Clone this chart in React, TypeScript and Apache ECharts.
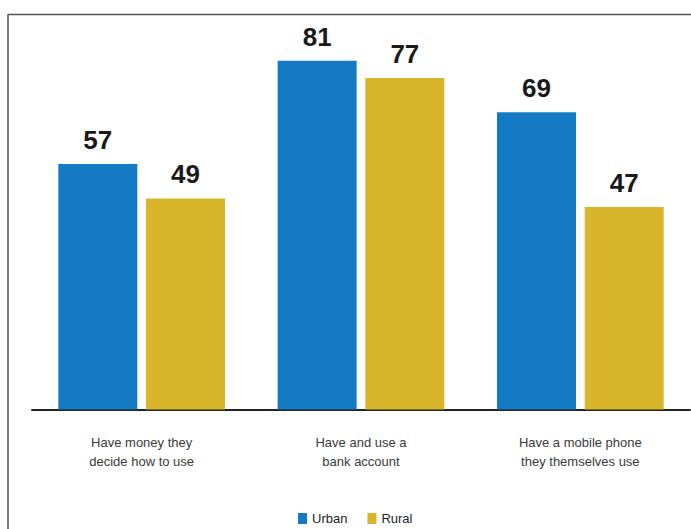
import React, { useEffect, useRef } from "react";
import * as echarts from "echarts";

const categories = [
  "Have money they\ndecide how to use",
  "Have and use a\nbank account",
  "Have a mobile phone\nthey themselves use",
];
const urbanValues = [57, 81, 69];
const ruralValues = [49, 77, 47];
const seriesNames = ["Urban", "Rural"];

const BLUE = "#157ac4";
const YELLOW = "#d8b52b";
const FONT = "'Liberation Sans', Arial, sans-serif";

export default function App() {
  const ref = useRef<HTMLDivElement>(null);
  useEffect(() => {
    if (!ref.current) return;
    const chart = echarts.init(ref.current, undefined, { renderer: "svg" });
    const valueLabel = {
      show: true,
      position: "top" as const,
      distance: 11,
      fontFamily: FONT,
      fontWeight: "bold" as const,
      fontSize: 26,
      color: "#1a1a1a",
    };
    chart.setOption({
      animation: false,
      backgroundColor: "#ffffff",
      grid: { left: 32, right: 1, top: 60.7, bottom: 119.5, containLabel: false },
      xAxis: {
        type: "category",
        data: categories,
        axisLine: { show: true, lineStyle: { color: "#222222", width: 2 } },
        axisTick: { show: false },
        axisLabel: {
          margin: 23,
          fontFamily: FONT,
          fontSize: 13,
          lineHeight: 19,
          color: "#3a3a3a",
          interval: 0,
        },
      },
      yAxis: {
        type: "value",
        min: 0,
        max: 81,
        show: false,
        splitLine: { show: false },
      },
      legend: {
        data: seriesNames,
        left: 298,
        top: 512,
        padding: 0,
        icon: "rect",
        itemWidth: 9,
        itemHeight: 11,
        itemGap: 20,
        textStyle: { fontFamily: FONT, fontSize: 13, color: "#222222" },
      },
      graphic: [
        {
          type: "line",
          shape: { x1: 8, y1: 14.5, x2: 700, y2: 14.5 },
          style: { stroke: "#555555", lineWidth: 1.5 },
        },
        {
          type: "line",
          shape: { x1: 8, y1: 14, x2: 8, y2: 540 },
          style: { stroke: "#555555", lineWidth: 1.5 },
        },
      ],
      series: [
        {
          name: seriesNames[0],
          type: "bar",
          data: urbanValues,
          barWidth: 79,
          barGap: "11%",
          itemStyle: { color: BLUE },
          label: valueLabel,
        },
        {
          name: seriesNames[1],
          type: "bar",
          data: ruralValues,
          barWidth: 79,
          barGap: "11%",
          itemStyle: { color: YELLOW },
          label: valueLabel,
        },
      ],
    });
    return () => chart.dispose();
  }, []);
  return (
    <div
      ref={ref}
      style={{ position: "absolute", left: 0, top: 0, width: 691, height: 529 }}
    />
  );
}
